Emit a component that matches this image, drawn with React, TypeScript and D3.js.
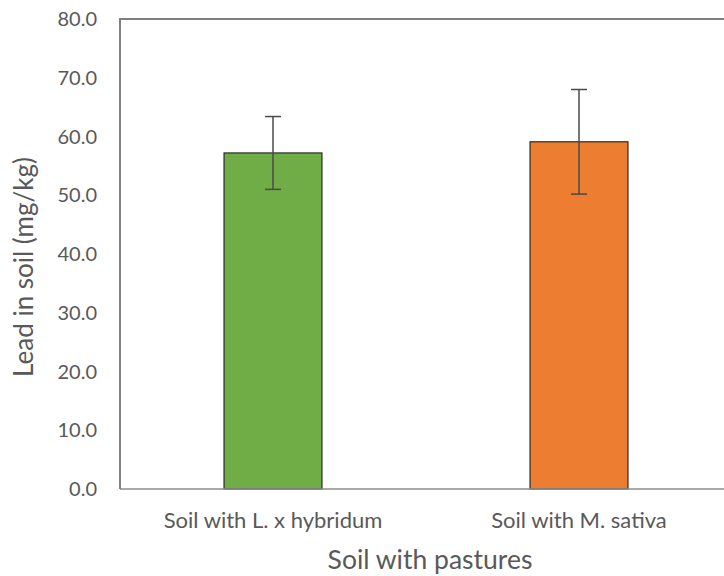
import React from "react";
import * as d3 from "d3";

const categories = ["Soil with L. x hybridum", "Soil with M. sativa"];
const means = [57.2, 59.1];
const errors = [6.2, 8.9];
const colors = ["#70AD47", "#ED7D31"];
const yTicks = [0, 10, 20, 30, 40, 50, 60, 70, 80];

export default function App() {
  const W = 724, H = 576;
  const left = 120, top = 19, bottom = 489, right = 732;
  const x = d3.scaleBand().domain(categories).range([left, right]).paddingInner(0.68).paddingOuter(0.34);
  const y = d3.scaleLinear().domain([0, 80]).range([bottom, top]);
  const font = "Lato, 'Open Sans', sans-serif";
  const txt = "#595959";
  return (
    <svg width={W} height={H} style={{ position: "absolute", left: 0, top: 0, background: "#fff" }}>
      <rect x={0} y={0} width={W} height={H} fill="#fff" />
      {yTicks.map((t) => (
        <text key={t} x={97} y={y(t)} dy="0.36em" textAnchor="end" fontSize={20} fill={txt} fontFamily={font}>
          {t.toFixed(1)}
        </text>
      ))}
      {categories.map((c, i) => {
        const bx = x(c)!;
        const bw = x.bandwidth();
        const cx = bx + bw / 2;
        return (
          <g key={c}>
            <rect x={bx} y={y(means[i])} width={bw} height={y(0) - y(means[i])} fill={colors[i]} stroke="#2a2a2a" strokeWidth={1.2} />
            <line x1={cx} x2={cx} y1={y(means[i] + errors[i])} y2={y(means[i] - errors[i])} stroke="#4a4a4a" strokeWidth={1.5} />
            <line x1={cx - 8} x2={cx + 8} y1={y(means[i] + errors[i])} y2={y(means[i] + errors[i])} stroke="#4a4a4a" strokeWidth={1.5} />
            <line x1={cx - 8} x2={cx + 8} y1={y(means[i] - errors[i])} y2={y(means[i] - errors[i])} stroke="#4a4a4a" strokeWidth={1.5} />
            <text x={cx} y={528} textAnchor="middle" fontSize={22} fill={txt} fontFamily={font}>{c}</text>
          </g>
        );
      })}
      <line x1={left} x2={W} y1={bottom} y2={bottom} stroke="#8c8c8c" strokeWidth={1.3} />
      <line x1={left} x2={left} y1={top} y2={bottom} stroke="#7f7f7f" strokeWidth={2} />
      <line x1={left - 1} x2={W} y1={top} y2={top} stroke="#7f7f7f" strokeWidth={2} />
      <text x={430} y={569} textAnchor="middle" fontSize={26.5} fill={txt} fontFamily={font}>Soil with pastures</text>
      <text transform={`translate(33,267) rotate(-90)`} textAnchor="middle" fontSize={26} fill={txt} fontFamily={font}>
        Lead in soil (mg/kg)
      </text>
    </svg>
  );
}
